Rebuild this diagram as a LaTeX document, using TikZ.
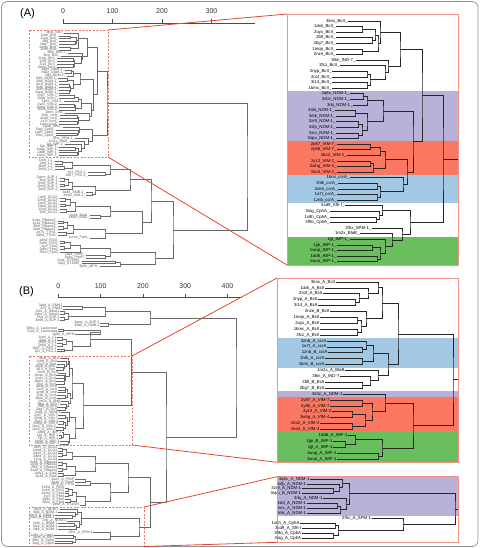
\documentclass[tikz,border=0pt]{standalone}
\usepackage{fontspec}
\setmainfont{Liberation Sans}
\usetikzlibrary{calc}

\definecolor{conred}{RGB}{230,70,48}
\definecolor{panred}{RGB}{240,148,138}
\definecolor{dashred}{RGB}{238,118,104}
\definecolor{bandpur}{RGB}{184,178,216}
\definecolor{bandred}{RGB}{250,120,98}
\definecolor{bandblu}{RGB}{162,200,228}
\definecolor{bandgrn}{RGB}{106,190,94}
\definecolor{treegray}{RGB}{105,105,105}
\definecolor{framegray}{RGB}{150,150,150}

\tikzset{
  lab/.style={anchor=east, inner sep=0.4pt, font=\fontsize{4.3}{4.3}\selectfont},
  olab/.style={anchor=east, inner sep=0.3pt, text=black!65, font=\fontsize{3.6}{3.6}\selectfont},
  ztree/.style={draw=black!85, line width=0.8pt},
  otree/.style={draw=treegray, line width=0.45pt},
  axisln/.style={draw=black!70, line width=0.6pt},
  ticklab/.style={font=\fontsize{7}{7}\selectfont, text=black!80},
  panlab/.style={font=\fontsize{11}{11}\selectfont},
  dbox/.style={draw=dashred, line width=0.9pt, dash pattern=on 2pt off 1.5pt},
  panel/.style={draw=panred, line width=0.8pt},
  conn/.style={draw=conred, line width=0.8pt},
}

% bracket of a dendrogram: children #1 and #2 joined at height #3, parent named #4
\newcommand\jn[4]{%
  \coordinate (#4m) at ($(#1)!.5!(#2)$);
  \coordinate (#4) at (#3,0 |- #4m);
  \draw[br] (#1) -| (#4) |- (#2);}

% cluster of panel (A)
\newcommand\treeA[1]{%
  \foreach \i/\x/\lb in {1/348/3kns\_BcII\_, 2/336/1dxk\_BcII\_, 3/336/2uyx\_BcII\_,
      4/336/2bfl\_BcII\_, 5/336/2bg7\_BcII\_, 6/336/1mqo\_BcII\_, 7/336/2nze\_BcII\_,
      8/356/3l6n\_IND-7\_, 9/340/3fcz\_BcII\_, 10/332/2nyp\_BcII\_, 11/332/2nzf\_BcII\_,
      12/332/3i14\_BcII\_, 13/332/1bmc\_BcII\_, 14/350/3q6x\_NDM-1\_, 15/350/3s0z\_NDM-1\_,
      16/353/3rkj\_NDM-1\_, 17/335/3sbl\_NDM-1\_, 18/336/3rkk\_NDM-1\_, 19/336/3zr9\_NDM-1\_,
      20/336/3sfp\_NDM-1\_, 21/336/3srx\_NDM-1\_, 22/336/3spu\_NDM-1\_, 23/337/2y87\_VIM-7\_,
      24/337/2y8b\_VIM-7\_, 25/347/1ko2\_VIM-2\_, 26/337/2yz3\_VIM-2\_, 27/337/2whg\_VIM-4\_,
      28/337/1ko3\_VIM-2\_, 29/350/1bmi\_ccrA\_, 30/338/1hlk\_ccrA\_, 31/338/4znb\_ccrA\_,
      32/337/1a7t\_ccrA\_, 33/337/1znb\_ccrA\_, 34/345/3sd9\_Sfh-I\_, 35/330/3iog\_CphA\_,
      36/330/1x8h\_CphA\_, 37/330/3f9o\_CphA\_, 38/372/2fhx\_SPM-1\_, 39/360/1m2x\_BlaB\_,
      40/350/1jjt\_IMP-1\_, 41/337/1jje\_IMP-1\_, 42/337/1wup\_IMP-1\_, 43/337/1dd6\_IMP-1\_,
      44/337/1wuo\_IMP-1\_}{%
    \node[lf] (#1t\i) at (\x,{15.4+5.6*\i}) {\lb};
    \coordinate (#1l\i) at (\x,{15.4+5.6*\i});}
  \foreach \pa/\pb/\px/\pn in {l2/l3/362/n23, l4/l5/372/n45, n23/n45/375/n25,
      l6/l7/362/n67, n25/n67/378/n27, l1/n27/380/n17, l10/l11/367/n1011,
      l12/l13/367/n1213, n1011/n1213/370/n1013, l9/n1013/385/n913, l8/n913/388/n813,
      n17/n813/400/bcl, l14/l15/363/n1415, n1415/l16/367/n1416, l17/l18/355/n1718,
      l19/l20/358/n1920, l21/l22/358/n2122, n1920/n2122/362/n1922, n1718/n1922/367/n1722,
      n1416/n1722/383/ndm, l23/l24/370/n2324, n2324/l25/380/n2325, l26/l27/370/n2627,
      n2627/l28/373/n2628, n2325/n2628/385/vim, l30/l31/377/n3031, l32/l33/377/n3233,
      n3031/n3233/380/n3033, l29/n3033/403/ccr, vim/ccr/407/vc, ndm/vc/413/nvc,
      bcl/nvc/422/up, l36/l37/376/n3637, l35/n3637/379/n3537, l34/n3537/382/cph,
      l41/l42/372/n4142, l43/l44/377/n4344, n4142/n4344/380/n4144, l40/n4144/385/imp,
      l39/imp/392/bimp, l38/bimp/402/simp, cph/simp/410/low, up/low/443/root}
    {\jn{#1\pa}{#1\pb}{\px}{#1\pn}}}

% upper cluster of panel (B)
\newcommand\treeB[1]{%
  \foreach \i/\x/\lb in {1/335.7/3kns\_A\_BcII, 2/325/1dxk\_A\_BcII, 3/323/2nzf\_A\_BcII,
      4/318/2nyp\_A\_BcII, 5/318/3i14\_A\_BcII, 6/330/2nze\_B\_BcII, 7/320/1mqo\_A\_BcII,
      8/320/2uyx\_A\_BcII, 9/320/1bmc\_A\_BcII, 10/320/3fcz\_A\_BcII, 11/327/4znb\_A\_ccrA,
      12/327/1a7t\_A\_ccrA, 13/328/1znb\_B\_ccrA, 14/325/1hlk\_A\_ccrA, 15/325/1bmi\_B\_ccrA,
      16/345/1m2x\_A\_BlaB, 17/340/3l6n\_A\_IND-7, 18/325/2bfl\_B\_BcII, 19/325/2bg7\_B\_BcII,
      20/343/3s0z\_A\_NDM-1, 21/330/2y87\_A\_VIM-7, 22/330/2y8b\_A\_VIM-7, 23/332/2yz3\_A\_VIM-2,
      24/330/2whg\_A\_VIM-4, 25/320/1ko2\_A\_VIM-2, 26/320/1ko3\_A\_VIM-2, 27/348/1dd6\_A\_IMP-1,
      28/333/1jje\_B\_IMP-1, 29/333/1jjt\_A\_IMP-1, 30/337/1wup\_A\_IMP-1, 31/337/1wuo\_A\_IMP-1}{%
    \node[lf] (#1t\i) at (\x,{276.1+5.9*\i}) {\lb};
    \coordinate (#1l\i) at (\x,{276.1+5.9*\i});}
  \foreach \pa/\pb/\px/\pn in {l4/l5/355/n45, l3/n45/359/n35, l2/n35/368/n25,
      l1/n25/378/n15, l7/l8/357/n78, l9/l10/357/n910, n78/n910/361/n710,
      l6/n710/366/n610, n15/n610/382/bcl, l12/l13/362/n1213, l11/n1213/366/n1113,
      l14/l15/362/n1415, n1113/n1415/373/ccr, l18/l19/362/n1819, l17/n1819/370/n1719,
      l16/n1719/378/n1619, ccr/n1619/388/cb, bcl/cb/398/top, l21/l22/362/n2122,
      l23/l24/352/n2324, l25/l26/352/n2526, n2324/n2526/365/n2326, n2122/n2326/372/vim,
      l20/vim/385/nv, l28/l29/345/n2829, l27/n2829/355/n2729, l30/l31/378/n3031,
      n2729/n3031/382/imp, nv/imp/413/bot, top/bot/453/root}
    {\jn{#1\pa}{#1\pb}{\px}{#1\pn}}}

% lower cluster of panel (B)
\newcommand\treeC[1]{%
  \foreach \i/\x/\lb in {1/310/3q6x\_A\_NDM-1, 2/306.7/3sfp\_A\_NDM-1, 3/301.7/3zr9\_A\_NDM-1,
      4/301.7/3spu\_B\_NDM-1, 5/323/3rkj\_A\_NDM-1, 6/306.7/3sbl\_A\_NDM-1,
      7/306.7/3srx\_A\_NDM-1, 8/306.7/3rkk\_A\_NDM-1, 9/371.7/2fhx\_A\_SPM-1,
      10/300/1x8h\_A\_CphA, 11/301.7/3sd9\_A\_Sfh-I, 12/301.7/3f9o\_A\_CphA,
      13/301.7/3iog\_A\_CphA}{%
    \node[lf] (#1t\i) at (\x,{474.08+4.92*\i}) {\lb};
    \coordinate (#1l\i) at (\x,{474.08+4.92*\i});}
  \foreach \pa/\pb/\px/\pn in {l3/l4/333/n34, l2/n34/339/n24, l1/n24/342/n14,
      l6/l7/337/n67, n67/l8/340/n68, l5/n68/346/n58, n14/n58/349/ndm,
      l10/l11/335/n1011, l12/l13/333/n1213, n1011/n1213/338/cph, l9/cph/403/spm,
      ndm/spm/455/root}
    {\jn{#1\pa}{#1\pb}{\px}{#1\pn}}}

\begin{document}
\begin{tikzpicture}[x=1pt, y=-1pt, br/.style=otree, lf/.style=olab]
  \useasboundingbox (0,0) rectangle (483,548);
  \draw[framegray, line width=0.8pt, rounded corners=6pt] (1.5,1.5) rectangle (478,546.5);

  % ==========================================
  % (A) overview dendrogram
  % ==========================================
  \node[panlab] (labA) at (27.5,14) {(A)};
  \draw[axisln] (63,23) -- (255,23);
  \foreach \v/\xx in {0/63, 100/112.5, 200/162, 300/211.5}
    \draw[axisln] (\xx,23) -- (\xx,19) node[ticklab, above=1.5pt] (ta\v) {\v};

  % boxed cluster, same tree as the zoom
  \begin{scope}[shift={(-92.35,22.3)}, xscale=0.45, yscale=0.509]
    \treeA{oA}
  \end{scope}

  % remaining leaves
  \foreach \i/\x/\lb in {1/55/1sml\_L1\_, 2/55/2aio\_L1\_, 3/55/2fm6\_L1\_, 4/55/2h6a\_L1\_,
      5/88/1jt1\_FEZ-1\_, 6/88/1k07\_FEZ-1\_, 7/60/2gmn\_BJP-1\_, 8/60/3lvz\_BJP-1\_,
      9/60/3m8t\_BJP-1\_, 10/60/2hb9\_BJP-1\_, 11/60/3lw0\_BJP-1\_, 12/86/3sd8\_SMB-1\_,
      13/86/3sw3\_AIM-1\_, 14/60/1qh5\_GLO2\_, 15/60/1xm8\_GLO2\_, 16/60/2q42\_GLO2\_,
      17/60/2qed\_GLO2\_, 18/60/1ycg\_GLO2\_, 19/60/1ztc\_GLO2\_, 20/90/2p18\_ElaC\_,
      21/90/1ww1\_ElaC\_, 22/58/2cbn\_RNaseZ\_, 23/58/1y44\_RNaseZ\_, 24/58/2fk6\_RNaseZ\_,
      25/58/3zwf\_RNaseZ\_, 26/58/2e7y\_TTHA\_, 27/58/3dha\_TTHA\_, 28/90/1vme\_FprA\_,
      29/60/1e5d\_ROO\_, 30/60/2ohh\_ROO\_, 31/60/1ycf\_FprA\_, 32/60/2q9u\_FprA\_,
      33/60/3hnn\_FprA\_, 34/86/2az4\_PhnP\_, 35/86/3g1p\_PhnP\_, 36/82/2zwr\_ST1585\_,
      37/82/3aj3\_ST1585\_, 38/100/1p9e\_MPH\_}{%
    \node[lf] (alt\i) at (\x,{158.15+2.85*\i}) {\lb};
    \coordinate (all\i) at (\x,{158.15+2.85*\i});}
  \foreach \pa/\pb/\px/\pn in {l1/l2/62/n12, l3/l4/64/n34, n12/n34/72/g1, l5/l6/105/g2,
      g1/g2/110/g12, l7/l8/64/n78, l9/l10/64/n910, n78/n910/68/n710, n710/l11/72/g3,
      l12/l13/92/g4, g3/g4/95/g34, g12/g34/130/g14, l14/l15/65/n1415, l16/l17/65/n1617,
      n1415/n1617/70/n1417, l18/l19/66/n1819, n1417/n1819/75/g5, l20/l21/100/g6,
      g5/g6/110/g56, l22/l23/63/n2223, l24/l25/63/n2425, n2223/n2425/67/n2225,
      l26/l27/66/n2627, n2225/n2627/73/g7, g7/l28/105/g78, g56/g78/142.7/g58,
      g14/g58/151/g18, l29/l30/64/n2930, l31/l32/64/n3132, n2930/n3132/70/n2932,
      n2932/l33/80/g9a, l34/l35/105/g9b, g9a/g9b/110/g9, l36/l37/115/n3637,
      n3637/l38/120/g10, g9/g10/155/g910, g18/g910/173/g}
    {\jn{al\pa}{al\pb}{\px}{al\pn}}
  \jn{oAroot}{alg}{247}{aroot}

  \coordinate (bxAnw) at (29,30);
  \coordinate (bxAne) at (108,30);
  \coordinate (bxAse) at (108,157);
  \draw[dbox] (bxAnw) rectangle (bxAse);

  % ==========================================
  % (A) zoom panel
  % ==========================================
  \coordinate (pnAnw) at (287,14);
  \coordinate (pnAsw) at (287,265);
  \fill[white] (287,14) rectangle (458,265);
  \fill[bandpur] (287,91) rectangle (458,141.4);
  \fill[bandred] (287,141.4) rectangle (458,175);
  \fill[bandblu] (287,175) rectangle (458,203);
  \fill[bandgrn] (287,236.6) rectangle (458,265);
  \begin{scope}[br/.style=ztree, lf/.style=lab]
    \treeA{zA}
    \draw[br] (zAroot) -- ++(15,0);
  \end{scope}
  \draw[panel] (pnAnw) rectangle (458,265);
  \draw[conn] (bxAne) -- (pnAnw);
  \draw[conn] (bxAse) -- (pnAsw);

  % ==========================================
  % (B) overview dendrogram
  % ==========================================
  \node[panlab] (labB) at (26.5,292) {(B)};
  \draw[axisln] (58.3,297.7) -- (242,297.7);
  \foreach \v/\xx in {0/58.3, 100/100.6, 200/142.9, 300/185.2, 400/227.5}
    \draw[axisln] (\xx,297.7) -- (\xx,293.5) node[ticklab, above=1.5pt] (tb\v) {\v};

  \begin{scope}[shift={(-7.6,222.3)}, xscale=0.2, yscale=0.483]
    \treeB{oB}
  \end{scope}
  \begin{scope}[shift={(-109.9,232.1)}, xscale=0.547, yscale=0.579]
    \treeC{oC}
  \end{scope}

  % leaves above the first box
  \foreach \i/\x/\lb in {1/63/3adr\_A\_SNM1, 2/63/2i7t\_A\_SNM1, 3/60/2cfu\_A\_SdsA1,
      4/60/2yhe\_A\_SdsA1, 5/60/3lvz\_A\_BJP-1, 6/60/3m8t\_A\_BJP-1, 7/100/2gmn\_A\_BJP-1,
      8/100/3sd8\_A\_SMB-1, 9/58/3dha\_A\_Lactonase, 10/58/2r2d\_A\_Lactonase,
      11/75/1p9e\_A\_MPH, 12/57/1sml\_A\_L1, 13/57/2aio\_A\_L1, 14/57/2fm6\_A\_L1,
      15/57/2h6a\_A\_L1, 16/57/1k07\_A\_FEZ-1, 17/57/1jt1\_A\_FEZ-1}{%
    \node[lf] (but\i) at (\x,{303.15+2.85*\i}) {\lb};
    \coordinate (bul\i) at (\x,{303.15+2.85*\i});}
  \foreach \pa/\pb/\px/\pn in {l1/l2/82/n12, l3/l4/64/n34, l5/l6/64/n56, n34/n56/68/n36,
      n12/n36/105/pa, l7/l8/108/n78, pa/n78/150/p, l9/l10/63/n910, n910/l11/100/qa,
      l12/l13/62/n1213, l14/l15/62/n1415, n1213/n1415/66/n1215, l16/l17/64/n1617,
      n1215/n1617/72/qb, qa/qb/90/q}
    {\jn{bu\pa}{bu\pb}{\px}{bu\pn}}

  % leaves between the two boxes
  \foreach \i/\x/\lb in {1/58/1qh5\_A\_GLO2, 2/58/1xm8\_A\_GLO2, 3/58/2q42\_A\_GLO2,
      4/58/2qed\_A\_GLO2, 5/58/1ycg\_A\_GLO2, 6/58/2cbn\_A\_RNaseZ, 7/58/1y44\_A\_RNaseZ,
      8/58/2fk6\_A\_RNaseZ, 9/58/3zwf\_A\_RNaseZ, 10/58/1ww1\_A\_ElaC, 11/58/2p18\_A\_ElaC,
      12/75/2az4\_A\_PhnP, 13/75/3g1p\_A\_PhnP, 14/75/2e7y\_A\_TTHA, 15/65/1e5d\_A\_ROO,
      16/65/2ohh\_A\_ROO, 17/65/1vme\_A\_FprA, 18/65/1ycf\_A\_FprA, 19/65/2q9u\_A\_FprA,
      20/65/3hnn\_A\_FprA, 21/80/2zwr\_A\_ST1585}{%
    \node[lf] (bmt\i) at (\x,{445.15+2.85*\i}) {\lb};
    \coordinate (bml\i) at (\x,{445.15+2.85*\i});}
  \foreach \pa/\pb/\px/\pn in {l1/l2/62/n12, l3/l4/62/n34, n12/n34/66/n14, n14/l5/72/ma,
      l6/l7/62/n67, l8/l9/62/n89, n67/n89/66/n69, l10/l11/63/n1011, n69/n1011/75/mb,
      ma/mb/95/mab, l12/l13/85/n1213, n1213/l14/90/mc, l15/l16/68/n1516,
      l17/l18/68/n1718, n1516/n1718/72/n1518, l19/l20/70/n1920, n1518/n1920/76/n1520,
      n1520/l21/85/md, mc/md/110/mcd, mab/mcd/128/m}
    {\jn{bm\pa}{bm\pb}{\px}{bm\pn}}

  \jn{buq}{oBroot}{131.7}{bj}
  \jn{bmm}{oCroot}{150.7}{bk}
  \jn{bj}{bk}{166}{bl}
  \jn{bup}{bl}{236}{broot}

  \coordinate (bxBnw) at (29,356);
  \coordinate (bxBne) at (132,356);
  \coordinate (bxBse) at (132,445);
  \draw[dbox] (bxBnw) rectangle (bxBse);
  \coordinate (bxCnw) at (29,507);
  \coordinate (bxCne) at (144,507);
  \coordinate (bxCse) at (144,546.5);
  \draw[dbox] (bxCnw) rectangle (bxCse);

  % ==========================================
  % (B) zoom panels
  % ==========================================
  \coordinate (pnBnw) at (277,278);
  \coordinate (pnBsw) at (277,462.3);
  \fill[white] (277,278) rectangle (458,462.3);
  \fill[bandblu] (277,338.05) rectangle (458,367.55);
  \fill[bandpur] (277,391.15) rectangle (458,397.05);
  \fill[bandred] (277,397.05) rectangle (458,432.45);
  \fill[bandgrn] (277,432.45) rectangle (458,462.3);

  \coordinate (pnCnw) at (277,476.7);
  \coordinate (pnCsw) at (277,542.3);
  \fill[white] (277,476.7) rectangle (458,542.3);
  \fill[bandpur] (277,476.7) rectangle (458,515.9);

  \begin{scope}[br/.style=ztree, lf/.style=lab]
    \treeB{zB}
    \draw[br] (zBroot) -- ++(5,0);
    \treeC{zC}
    \draw[br] (zCroot) -- ++(3,0);
  \end{scope}
  \draw[panel] (pnBnw) rectangle (458,462.3);
  \draw[panel] (pnCnw) rectangle (458,542.3);

  \draw[conn] (bxBne) -- (pnBnw);
  \draw[conn] (bxBse) -- (pnBsw);
  \draw[conn] (bxCne) -- (pnCnw);
  \draw[conn] (bxCse) -- (pnCsw);
\end{tikzpicture}
\end{document}
